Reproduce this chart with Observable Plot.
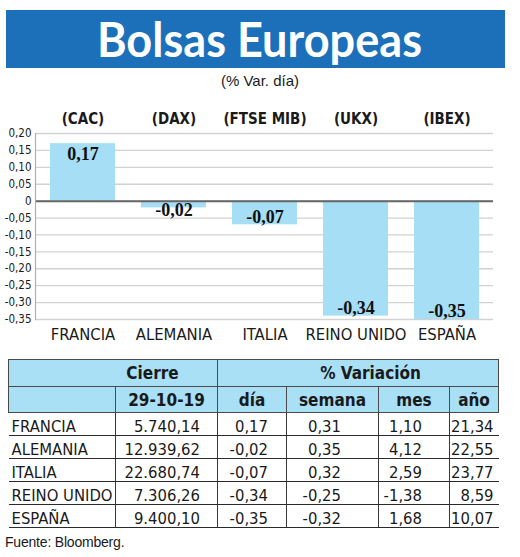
<!DOCTYPE html>
<html><head><meta charset="utf-8">
<script src="https://cdn.jsdelivr.net/npm/d3@7"></script>
<script src="https://cdn.jsdelivr.net/npm/@observablehq/plot@0.6"></script>
<style>
html,body{margin:0;padding:0;background:#fff;}
body{position:relative;width:520px;height:557px;overflow:hidden;color:#1a1a1a;font-family:"Liberation Sans Narrow","DejaVu Sans Condensed","Liberation Sans",sans-serif;}
#title{position:absolute;left:6px;top:10px;width:499px;height:58px;background:#1b70b9;}
#title span{position:absolute;left:0;top:0;white-space:nowrap;font-family:Lato,"Open Sans",sans-serif;font-weight:bold;font-size:47px;line-height:58px;color:#fff;transform-origin:0 50%;}
#sub{position:absolute;left:0;top:68px;width:520px;height:26px;line-height:26px;text-align:center;font-family:"Liberation Sans",sans-serif;font-size:15px;}
#chart{position:absolute;left:0;top:94px;width:520px;height:258px;}
#tbl{position:absolute;left:8px;top:359px;border-collapse:collapse;table-layout:fixed;width:490px;font-size:16.5px;}
#tbl th{background:#a9e0f6;font-weight:bold;font-size:17px;padding:0;border:1.5px solid #4a4a4a;vertical-align:middle;}
#tbl tr.h1 th{height:26px;}
#tbl tr.h2 th{height:25px;}
#tbl td{height:22px;padding:0;vertical-align:bottom;line-height:17px;border-bottom:1.3px solid #2a2a2a;text-align:right;}
#tbl td+td{border-left:1.3px solid #3a3a3a;}
#tbl td.lab{text-align:left;padding-left:3px;}
#foot{position:absolute;left:5px;top:534px;font-family:"Liberation Sans",sans-serif;font-size:14px;letter-spacing:-0.2px;}
</style></head>
<body>
<div id="title"><span id="tt">Bolsas Europeas</span></div>
<div id="sub">(% Var. día)</div>
<div id="chart"></div>
<table id="tbl">
<colgroup><col style="width:107px"><col style="width:102px"><col style="width:69px"><col style="width:92px"><col style="width:71px"><col style="width:49px"></colgroup>
<thead>
<tr class="h1"><th colspan="2" style="padding-left:79px">Cierre</th><th colspan="4" style="padding-left:25px">% Variación</th></tr>
<tr class="h2"><th></th><th id="dateH"></th><th>día</th><th>semana</th><th>mes</th><th>año</th></tr>
</thead>
<tbody id="tb"></tbody>
</table>
<div id="foot">Fuente: Bloomberg.</div>
<script>
// ---- data ----
const countries = ["FRANCIA", "ALEMANIA", "ITALIA", "REINO UNIDO", "ESPAÑA"];
const indices = ["(CAC)", "(DAX)", "(FTSE MIB)", "(UKX)", "(IBEX)"];
const dayChange = [0.17, -0.02, -0.07, -0.34, -0.35];
const yTicks = [0.20, 0.15, 0.10, 0.05, 0, -0.05, -0.10, -0.15, -0.20, -0.25, -0.30, -0.35];
const closeDate = "29-10-19";
const closes = [5740.14, 12939.62, 22680.74, 7306.26, 9400.10];
const weekChange = [0.31, 0.35, 0.32, -0.25, -0.32];
const monthChange = [1.10, 4.12, 2.59, -1.38, 1.68];
const yearChange = [21.34, 22.55, 23.77, 8.59, 10.07];

// ---- formatting ----
const loc = d3.formatLocale({decimal: ",", thousands: ".", grouping: [3], currency: ["", "€"], minus: "-"});
const f2 = loc.format(",.2f");
const fmt = d => d === 0 ? "0" : f2(d);

// ---- title scaling ----
const tt = document.getElementById("tt");
const w = tt.getBoundingClientRect().width;
const targetW = 325;
const sx = targetW / w;
tt.style.transform = `scaleX(${sx})`;
tt.style.left = (259.5 - 6 - targetW / 2) + "px";

// ---- chart ----
const data = countries.map((c, i) => ({country: c, index: indices[i], value: dayChange[i]}));
const narrow = '"Liberation Sans Narrow","DejaVu Sans Condensed","Liberation Sans",sans-serif';
const chart = Plot.plot({
  width: 520,
  height: 258,
  marginLeft: 35,
  marginRight: 27,
  marginTop: 39,
  marginBottom: 33,
  style: {fontFamily: narrow, color: "#1a1a1a", background: "transparent", overflow: "visible"},
  x: {domain: countries, paddingInner: 0.29, paddingOuter: 0.15, label: null},
  y: {domain: [-0.35, 0.20], label: null},
  marks: [
    Plot.ruleY(yTicks, {stroke: "#d2d2d2", strokeWidth: 1.3}),
    Plot.barY(data, {x: "country", y: "value", fill: "#a6def5"}),
    Plot.ruleY([0], {stroke: "#666", strokeWidth: 2}),
    Plot.frame({anchor: "left", stroke: "#b0b0b0", strokeWidth: 1.2}),
    Plot.axisY({ticks: yTicks, tickFormat: fmt, tickSize: 0, tickPadding: 4, fontSize: 11.5, label: null}),
    Plot.axisX({tickSize: 0, tickPadding: 9, fontSize: 16.5, label: null}),
    Plot.text(data, {x: "country", text: "index", frameAnchor: "top", dy: -20, fontWeight: "bold", fontSize: 15}),
    Plot.text(data.filter(d => d.value > 0), {x: "country", y: "value", text: d => fmt(d.value), dy: 11, fontFamily: '"Liberation Serif",serif', fontWeight: "bold", fontSize: 18, fill: "#111"}),
    Plot.text(data.filter(d => d.value < 0), {x: "country", y: d => Math.min(d.value, -0.05), text: d => fmt(d.value), dy: -8, fontFamily: '"Liberation Serif",serif', fontWeight: "bold", fontSize: 18, fill: "#111"})
  ]
});
document.getElementById("chart").appendChild(chart);

// ---- table ----
document.getElementById("dateH").textContent = closeDate;
const pads = [17, 18, 37, 27, 5];
const tb = document.getElementById("tb");
countries.forEach((c, i) => {
  const tr = document.createElement("tr");
  const cells = [f2(closes[i]), f2(dayChange[i]), f2(weekChange[i]), f2(monthChange[i]), f2(yearChange[i])];
  let html = `<td class="lab">${c}</td>`;
  cells.forEach((v, j) => { html += `<td style="padding-right:${pads[j]}px">${v}</td>`; });
  tr.innerHTML = html;
  tb.appendChild(tr);
});
</script>
</body></html>
